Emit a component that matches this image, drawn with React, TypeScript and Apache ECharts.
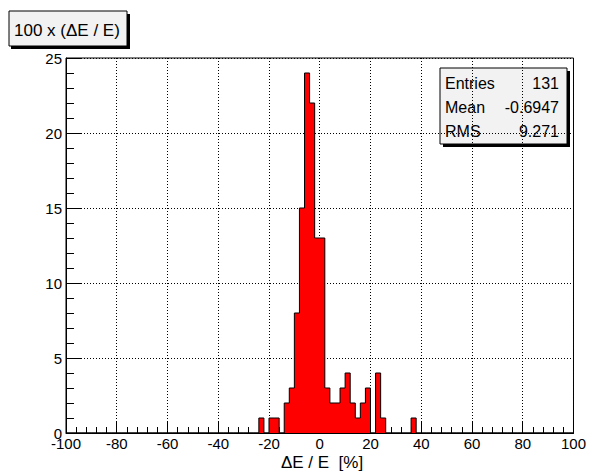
import React, { useEffect, useRef } from "react";
import * as echarts from "echarts";

// Histogram: 100 bins of width 2 from -100 to 100; only non-empty bins listed
const xMin = -100;
const xMax = 100;
const binWidth = 2;
const binLow = [-24, -20, -18, -14, -12, -10, -8, -6, -4, -2, 0, 2, 4, 6, 8, 10, 12, 14, 16, 18, 22, 24, 36];
const binCount = [1, 1, 1, 2, 3, 8, 15, 24, 22, 13, 13, 3, 2, 2, 3, 4, 2, 1, 2, 3, 4, 1, 1];

const statLabels = ["Entries", "Mean", "RMS"];
const statValues = ["131", "-0.6947", "9.271"];
const histTitle = "100 x (\u0394E / E)";
const xTitle = "\u0394E / E  [%]";

const FONT = "'Liberation Sans', Arial, Helvetica, sans-serif";

export default function App() {
  const ref = useRef<HTMLDivElement>(null);
  useEffect(() => {
    document.body.style.margin = "0";
    if (!ref.current) return;
    const chart = echarts.init(ref.current, undefined, { renderer: "svg" });

    const nBins = Math.round((xMax - xMin) / binWidth);
    const counts: number[] = new Array(nBins).fill(0);
    binLow.forEach((lo, i) => {
      counts[Math.round((lo - xMin) / binWidth)] = binCount[i];
    });
    const outline: number[][] = [[xMin, 0]];
    counts.forEach((c, i) => {
      const lo = xMin + i * binWidth;
      outline.push([lo, c], [lo + binWidth, c]);
    });
    outline.push([xMax, 0]);

    const statRows = statLabels.flatMap((lab, i) => [
      {
        type: "text",
        x: 445,
        y: 83 + i * 24,
        style: { text: lab, font: `16px ${FONT}`, fill: "#000", verticalAlign: "middle" },
      },
      {
        type: "text",
        x: 559,
        y: 83 + i * 24,
        style: {
          text: statValues[i],
          font: `16px ${FONT}`,
          fill: "#000",
          align: "right",
          verticalAlign: "middle",
        },
      },
    ]);

    chart.setOption({
      animation: false,
      backgroundColor: "#fff",
      grid: {
        left: 66,
        right: 13,
        top: 58,
        bottom: 39,
        show: true,
        borderColor: "#000",
        borderWidth: 1,
        backgroundColor: "transparent",
      },
      xAxis: {
        type: "value",
        min: xMin,
        max: xMax,
        interval: 20,
        axisLine: { show: true, onZero: false, lineStyle: { color: "#000", width: 1 } },
        axisTick: { show: true, inside: true, length: 11, lineStyle: { color: "#000" } },
        minorTick: { show: true, splitNumber: 5, length: 6, lineStyle: { color: "#000" } },
        axisLabel: { fontFamily: FONT, fontSize: 15, color: "#000", margin: 3 },
        splitLine: { show: true, lineStyle: { color: "#000", type: [1, 2], width: 1 } },
      },
      yAxis: {
        type: "value",
        min: 0,
        max: 25,
        interval: 5,
        axisLine: { show: true, onZero: false, lineStyle: { color: "#000", width: 1 } },
        axisTick: { show: true, inside: true, length: 15, lineStyle: { color: "#000" } },
        minorTick: { show: true, splitNumber: 5, length: 8, lineStyle: { color: "#000" } },
        axisLabel: { fontFamily: FONT, fontSize: 15, color: "#000", margin: 4 },
        splitLine: { show: true, lineStyle: { color: "#000", type: [1, 2], width: 1 } },
      },
      series: [
        {
          type: "line",
          data: outline,
          symbol: "none",
          lineStyle: { color: "#000", width: 1 },
          areaStyle: { color: "#ff0000", opacity: 1 },
          z: 3,
        },
      ],
      graphic: [
        {
          type: "text",
          x: 322,
          y: 462,
          style: {
            text: xTitle,
            font: `17px ${FONT}`,
            fill: "#000",
            align: "center",
            verticalAlign: "middle",
          },
        },
        { type: "rect", shape: { x: 11, y: 14, width: 119, height: 35 }, style: { fill: "#000" } },
        {
          type: "rect",
          shape: { x: 9, y: 11, width: 118, height: 35 },
          style: { fill: "#f2f2f2", stroke: "#000", lineWidth: 1 },
        },
        {
          type: "text",
          x: 14,
          y: 30,
          style: { text: histTitle, font: `17px ${FONT}`, fill: "#000", verticalAlign: "middle" },
        },
        { type: "rect", shape: { x: 443, y: 71, width: 127, height: 76 }, style: { fill: "#000" } },
        {
          type: "rect",
          shape: { x: 440, y: 68, width: 127, height: 76 },
          style: { fill: "#f2f2f2", stroke: "#000", lineWidth: 1 },
        },
        ...statRows,
      ],
    });
    return () => chart.dispose();
  }, []);
  return (
    <div
      ref={ref}
      style={{ position: "absolute", left: 0, top: 0, width: 589, height: 472 }}
    />
  );
}
